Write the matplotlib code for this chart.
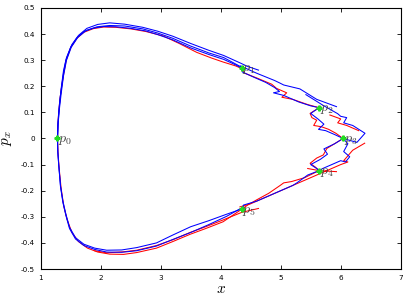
import matplotlib
matplotlib.use("Agg")
import matplotlib.pyplot as plt

plt.rcParams['mathtext.fontset'] = 'cm'

# nodes p0..p5
node_x = [1.28, 4.35, 5.64, 6.04, 5.64, 4.35]
node_y = [0.0, 0.270, 0.118, 0.0, -0.123, -0.272]
node_labels = ['$p_0$', '$p_1$', '$p_2$', '$p_3$', '$p_4$', '$p_5$']

# blue trajectories (None = break)
blue1_x = [1.28, 1.285, 1.30, 1.32, 1.35, 1.38, 1.42, 1.50, 1.60, 1.72, 1.88, 2.05, 2.25, 2.50, 2.75, 2.95,
           3.20, 3.50, 3.80, 4.05, 4.25, 4.35,
           4.36, 4.55, 4.75, 4.90, 4.98, 4.88, 5.05, 5.30, 5.50, 5.64,
           5.50, 5.62, 5.72, 5.63, 5.75, 5.90, 6.04,
           5.90, 5.72, 5.78, 5.66, 5.50, 5.60, 5.64,
           5.45, 5.27, 5.20, 5.00, 4.80, 4.60, 4.38, 4.35,
           4.10, 3.80, 3.50, 3.20, 2.93, 2.60, 2.35, 2.10, 1.90, 1.72, 1.58, 1.48, 1.42, 1.37, 1.33, 1.30,
           1.285, 1.28]
blue1_y = [0.0, 0.05, 0.10, 0.15, 0.20, 0.25, 0.30, 0.35, 0.385, 0.41, 0.423, 0.429, 0.428, 0.422, 0.412, 0.398,
           0.378, 0.347, 0.322, 0.303, 0.282, 0.270,
           0.255, 0.235, 0.215, 0.195, 0.180, 0.175, 0.165, 0.140, 0.125, 0.118,
           0.096, 0.075, 0.055, 0.035, 0.030, 0.015, 0.0,
           -0.020, -0.040, -0.060, -0.080, -0.100, -0.115, -0.123,
           -0.140, -0.170, -0.180, -0.200, -0.220, -0.240, -0.255, -0.270,
           -0.290, -0.315, -0.338, -0.370, -0.400, -0.418, -0.427, -0.428, -0.420, -0.405, -0.380, -0.340,
           -0.290, -0.240, -0.180, -0.100, -0.05, 0.0]

blue2_x = [1.28, 1.29, 1.31, 1.34, 1.38, 1.43, 1.52, 1.63, 1.77, 1.95, 2.15, 2.40, 2.70, 2.95, 3.20, 3.50,
           3.80, 4.05, 4.30, 4.45, 4.63, None,
           4.33, 4.60, 4.90, 4.99, 5.05, 5.32, 5.60, 5.93, None,
           5.42, 5.70, 5.95, 6.00, 6.10, 6.05, 6.20, 6.405, 6.27, 6.04, None,
           6.04, 6.12, 6.05, 6.15, 6.08, 6.00, 5.85, 5.70, 5.64]
blue2_y = [0.0, 0.06, 0.12, 0.19, 0.26, 0.31, 0.36, 0.395, 0.422, 0.437, 0.443, 0.438, 0.426, 0.411, 0.392, 0.364,
           0.338, 0.318, 0.292, 0.276, 0.262, None,
           0.278, 0.250, 0.222, 0.212, 0.205, 0.190, 0.150, 0.122, None,
           0.168, 0.128, 0.095, 0.085, 0.080, 0.060, 0.050, 0.020, -0.015, 0.0, None,
           0.0, -0.020, -0.050, -0.070, -0.090, -0.085, -0.100, -0.115, -0.123]

blue3_x = [4.38, 4.10, 3.80, 3.50, 3.20, 2.93, 2.60, 2.35, 2.10, 1.90, 1.72, 1.58, 1.48, 1.42, 1.37, 1.33,
           1.30, 1.285, 1.28, None,
           1.28, 1.29, 1.31, 1.34, 1.38, 1.43, 1.51, 1.62, 1.76, 1.94, 2.15, 2.40, 2.70, 2.95, 3.20, 3.50,
           3.80, 4.05, 4.35]
blue3_y = [-0.262, -0.298, -0.330, -0.360, -0.387, -0.412, -0.430, -0.436, -0.435, -0.425, -0.410, -0.385,
           -0.345, -0.295, -0.245, -0.185, -0.10, -0.05, 0.0, None,
           0.0, 0.055, 0.11, 0.17, 0.24, 0.30, 0.35, 0.388, 0.414, 0.428, 0.433, 0.431, 0.420, 0.404, 0.384, 0.354,
           0.328, 0.310, 0.273]

# red trajectories
red1_x = [1.28, 1.285, 1.30, 1.32, 1.35, 1.385, 1.425, 1.50, 1.60, 1.72, 1.88, 2.05, 2.25, 2.50, 2.75, 3.04,
          3.30, 3.60, 3.85, 4.04, 4.25, 4.35,
          4.40, 4.60, 4.85, 4.93, 5.10, 5.02, 5.20, 5.45, 5.64,
          5.49, 5.52, 5.60, 5.55, 5.68, 5.80, 5.92, 6.04,
          5.77, 5.71, 5.60, 5.49, 5.58, 5.64,
          5.40, 5.18, 5.05, 4.99, 4.80, 4.60, 4.45, 4.35,
          4.04, 3.75, 3.49, 3.20, 2.93, 2.60, 2.38, 2.15, 1.95, 1.78, 1.63, 1.52, 1.44, 1.385, 1.34, 1.31,
          1.29, 1.28]
red1_y = [0.0, 0.05, 0.10, 0.15, 0.20, 0.25, 0.30, 0.348, 0.383, 0.407, 0.421, 0.427, 0.426, 0.420, 0.410, 0.393,
          0.365, 0.330, 0.308, 0.293, 0.278, 0.268,
          0.250, 0.232, 0.208, 0.192, 0.175, 0.158, 0.150, 0.130, 0.118,
          0.096, 0.080, 0.070, 0.050, 0.045, 0.035, 0.020, 0.0,
          -0.038, -0.063, -0.075, -0.095, -0.110, -0.123,
          -0.150, -0.165, -0.170, -0.180, -0.210, -0.235, -0.255, -0.271,
          -0.319, -0.345, -0.367, -0.395, -0.420, -0.437, -0.444, -0.443, -0.435, -0.420, -0.395, -0.360,
          -0.310, -0.260, -0.190, -0.120, -0.06, 0.0]

red2_x = [6.40, 6.20, 6.05, 6.12, 6.00, 5.60, 5.20, 4.80, 4.50, 4.32, None,
          5.45, 5.64, 5.93, None,
          5.82, 6.00, 5.95, 6.10, 6.30, None,
          4.63, 4.35, 4.04, 3.75, 3.49, 3.20, 2.93, 2.60, 2.38, 2.10, 1.90]
red2_y = [-0.018, -0.045, -0.085, -0.090, -0.100, -0.140, -0.180, -0.220, -0.250, -0.262, None,
          -0.115, -0.123, -0.127, None,
          0.090, 0.075, 0.060, 0.050, 0.030, None,
          -0.268, -0.283, -0.312, -0.338, -0.360, -0.388, -0.410, -0.428, -0.434, -0.438, -0.430]

blue_sets = [(blue1_x, blue1_y), (blue2_x, blue2_y), (blue3_x, blue3_y)]
red_sets = [(red1_x, red1_y), (red2_x, red2_y)]


def clean(vals):
    return [float('nan') if v is None else v for v in vals]


fig = plt.figure(figsize=(4.07, 2.99), dpi=100)
ax = fig.add_axes([0.1, 0.1003, 0.8845, 0.873])

for xs, ys in red_sets:
    ax.plot(clean(xs), clean(ys), color='#ff0000', lw=0.75)
for xs, ys in blue_sets:
    ax.plot(clean(xs), clean(ys), color='#0000ff', lw=0.75)

ax.plot(node_x, node_y, ls='none', marker='P', ms=3.5, color='#22dd22', mec='#22dd22', zorder=5)
for x, y, lab in zip(node_x, node_y, node_labels):
    ax.text(x + 0.01, y - 0.004, lab, fontsize=10, color='#444444', va='center', ha='left', zorder=6)

ax.set_xlim(1, 7)
ax.set_ylim(-0.5, 0.5)
ax.set_xticks([1, 2, 3, 4, 5, 6, 7])
ax.set_yticks([-0.5, -0.4, -0.3, -0.2, -0.1, 0, 0.1, 0.2, 0.3, 0.4, 0.5])
ax.set_yticklabels(['-0.5', '-0.4', '-0.3', '-0.2', '-0.1', '0', '0.1', '0.2', '0.3', '0.4', '0.5'])
ax.tick_params(direction='in', top=True, right=True, length=3, width=0.6, labelsize=5.2, pad=4)
for s in ax.spines.values():
    s.set_linewidth(0.8)

ax.set_xlabel('$x$', fontsize=11, labelpad=0)
ax.set_ylabel('$p_x$', fontsize=11, labelpad=5)

fig.savefig('out.png', dpi=100)
